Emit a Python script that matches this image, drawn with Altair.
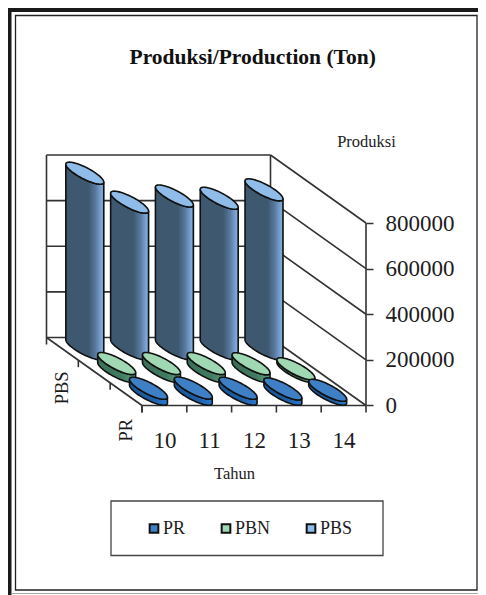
import numpy as np
import pandas as pd
import altair as alt

years = [10, 11, 12, 13, 14]
series = ["PR", "PBN", "PBS"]
PR = [26000, 27000, 26000, 23000, 17000]
PBN = [35000, 35000, 35000, 34000, 12000]
PBS = [770000, 643000, 670000, 660000, 697000]
y_ticks = [0, 200000, 400000, 600000, 800000]
top_colors = ["#3f7fc6", "#9fd8b2", "#8fbce8"]

FONT = "Liberation Serif"
INK = "#1c1c1c"

# Oblique projection of the 3D box (page px per unit)
W, H = 470, 587
CELL = 44.8            # px per year along the front edge
TON = 182.5 / 800000   # px per ton
DEPTH_X, DEPTH_Y = 95.5, 68.0  # px shift of the full depth
ORIGIN_X, ORIGIN_Y = 142 - 8, 405.5 - 8  # front-left floor corner inside the chart
SX = DEPTH_X / CELL
SY = DEPTH_Y / TON

def px(p, d):
    return 9.5 + p - SX * d

def py(v, d):
    return v + SY * d

def chart_x(pixel):
    return 9.5 + (pixel - ORIGIN_X) / CELL

def chart_y(pixel):
    return (ORIGIN_Y - pixel) / TON

x_domain = [chart_x(0), chart_x(W)]
y_domain = [chart_y(H), chart_y(0)]

# bar footprint
A, B = 0.2455, 0.162
phi = np.arctan2(SX * B, A)
R = np.hypot(A, SX * B)
s = np.linspace(0, np.pi, 49)

rows = []
for r, (name, vals) in enumerate(zip(series, [PR, PBN, PBS])):
    d = (r + 0.5) / 3
    for i, (yr, v) in enumerate(zip(years, vals)):
        p = i + 0.5
        for si in s:
            t1, t2 = si - phi, -si - phi
            xx = px(p + R * np.cos(si), d)
            h1 = SY * (d + B * np.sin(t1))
            h2 = SY * (d + B * np.sin(t2))
            low, high = min(h1, h2), max(h1, h2)
            rows.append(dict(key=f"{name}{yr}", series=name, x=xx,
                             top_low=v + low, top_high=v + high, base_low=low))
bars = pd.DataFrame(rows)

# box lines and ticks
TICK = 7 / TON
segs = []
def seg(a, b):
    k = len(segs)
    segs.append(dict(id=k, x=px(a[0], a[1]), y=py(a[2], a[1])))
    segs.append(dict(id=k, x=px(b[0], b[1]), y=py(b[2], b[1])))
for v in y_ticks:
    seg((0, 1, v), (5, 1, v))
    seg((5, 1, v), (5, 0, v))
seg((0, 1, 0), (0, 1, 800000))
seg((5, 1, 0), (5, 1, 800000))
seg((5, 0, 0), (5, 0, 800000))
seg((0, 0, 0), (5, 0, 0))
seg((0, 0, 0), (0, 1, 0))
for i in range(6):
    seg((i, 0, 0), (i, 0, -TICK))
for dd in [1 / 3, 2 / 3, 1]:
    seg((0, dd, 0), (0, dd, -TICK))
seg((0, 0, 0), (0, 0, -TICK))
box = pd.DataFrame(segs)

depth_labels = pd.DataFrame([
    dict(t="PBS", x=px(0, 2.5 / 3), y=py(-39 / TON, 2.5 / 3)),
    dict(t="PR", x=px(0, 0.5 / 3), y=py(-36 / TON, 0.5 / 3)),
])

xs = alt.Scale(domain=x_domain, nice=False, zero=False)
ys = alt.Scale(domain=y_domain, nice=False, zero=False)

x_axis = alt.Axis(values=years, format="d", offset=-(H - ORIGIN_Y), grid=False, domain=False,
                  ticks=False, labelFont=FONT, labelFontSize=23, labelColor=INK, labelPadding=24,
                  labelFlush=False, title="Tahun", titleFont=FONT, titleFontSize=16.5,
                  titleFontWeight="normal", titleColor=INK, titleX=226, titleY=68,
                  titleBaseline="middle", titleAlign="center", zindex=1)
y_axis = alt.Axis(values=y_ticks, format="d", orient="right", offset=-(W - (366 - 8)), grid=False,
                  domain=False, tickSize=7, tickColor="#333", tickWidth=1.5, labelFont=FONT,
                  labelFontSize=23, labelColor=INK, labelPadding=12, labelFlush=False,
                  title="Produksi", titleFont=FONT, titleFontSize=16.5, titleFontWeight="normal",
                  titleColor=INK, titleAngle=0, titleX=0, titleY=133, titleAlign="center",
                  titleBaseline="middle", zindex=1)

def panel(x0, x1, y0, y1, **style):
    table = pd.DataFrame({"x0": [chart_x(x0)], "x1": [chart_x(x1)],
                          "y0": [chart_y(y0)], "y1": [chart_y(y1)]})
    return alt.Chart(table).mark_rect(**style).encode(
        x=alt.X("x0:Q", scale=xs, axis=x_axis), x2="x1:Q",
        y=alt.Y("y0:Q", scale=ys, axis=y_axis, stack=None), y2="y1:Q")

frame_layer = [
    panel(7.5, 469, 7.5, 582, fill="white", stroke="#222", strokeWidth=1.3),
    panel(0, 3.5, 0, 587, fill="#1a1a1a"),
    panel(0, 470, 0, 4, fill="#1a1a1a"),
    panel(3.5, 470, 585, 586, fill="#aaaaaa"),
    panel(103, 375, 493, 547.5, fill="white", stroke="#444", strokeWidth=1.3),
]

lines = alt.Chart(box).mark_line(color="#333", strokeWidth=1.6, clip=False).encode(
    x=alt.X("x:Q", scale=xs, axis=x_axis),
    y=alt.Y("y:Q", scale=ys, axis=y_axis, stack=None),
    detail="id:N", order="id:Q",
)

grads = {
    "PR": [(0, "#1a5698"), (0.6, "#1d5ea6"), (1, "#2a78cc")],
    "PBN": [(0, "#3a6f58"), (0.6, "#3f7a60"), (1, "#5c9d7c")],
    "PBS": [(0, "#3e5870"), (0.6, "#3e5870"), (0.78, "#58799e"), (0.95, "#7fa9d9"), (1, "#7099c8")],
}

color_enc = alt.Color("series:N",
    scale=alt.Scale(domain=series, range=top_colors),
    legend=alt.Legend(title=None, orient="none", legendX=137, legendY=511.5, direction="horizontal",
                      columnPadding=31, labelFont=FONT, labelFontSize=18, labelColor=INK,
                      labelOffset=0, symbolType="square", symbolSize=75, symbolStrokeColor="#111",
                      symbolStrokeWidth=2, padding=0))

def row_layers(name):
    src = alt.Chart(bars).transform_filter(alt.datum.series == name)
    grad = alt.Gradient(gradient="linear", x1=0, x2=1, y1=0, y2=0,
                        stops=[alt.GradientStop(offset=o, color=c) for o, c in grads[name]])
    body = src.mark_area(color=grad, stroke="#111", strokeWidth=1.6, orient="vertical").encode(
        x=alt.X("x:Q", scale=xs, axis=x_axis),
        y=alt.Y("top_low:Q", scale=ys, axis=y_axis, stack=None),
        y2="base_low:Q", detail="key:N",
    )
    top = src.mark_area(stroke="#111", strokeWidth=1.6, orient="vertical").encode(
        x=alt.X("x:Q", scale=xs, axis=x_axis),
        y=alt.Y("top_low:Q", scale=ys, axis=y_axis, stack=None),
        y2="top_high:Q", detail="key:N", color=color_enc,
    )
    return [body, top]

labels = alt.Chart(depth_labels).mark_text(font=FONT, fontSize=18.5, angle=270, color=INK,
                                           align="center", baseline="middle").encode(
    x=alt.X("x:Q", scale=xs, axis=x_axis), y=alt.Y("y:Q", scale=ys, axis=y_axis, stack=None), text="t:N")

layers = frame_layer + [lines] + row_layers("PBS") + row_layers("PBN") + row_layers("PR") + [labels]

chart = alt.layer(*layers).properties(
    width=W, height=H, padding=0,
    autosize=alt.AutoSizeParams(type="none"),
    background="white",
    title=alt.TitleParams("Produksi/Production (Ton)", font=FONT, fontSize=21.5, fontWeight="bold",
                          color="#111", anchor="start", dx=121.5, dy=60, offset=0),
).configure_view(stroke=None)

chart.save("out.html", embed_options={"renderer": "svg", "actions": False})
